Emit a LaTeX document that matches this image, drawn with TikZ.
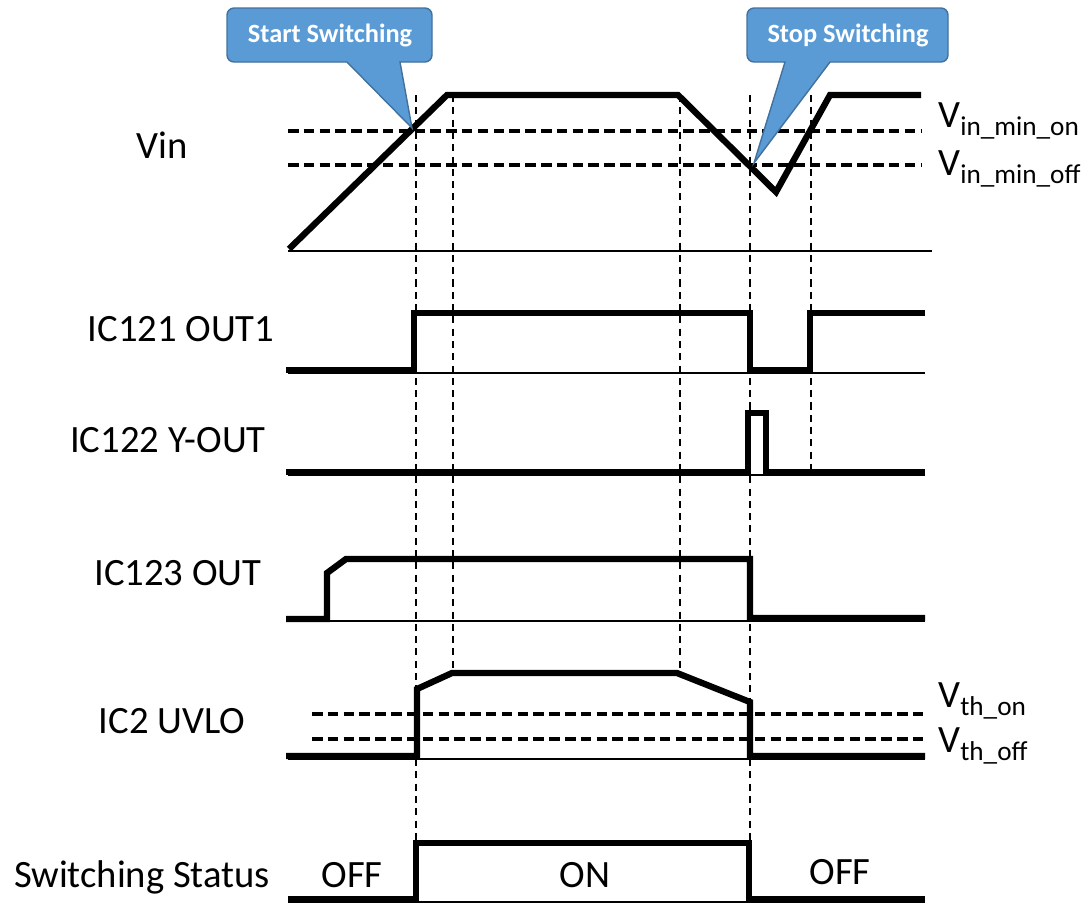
\documentclass[tikz,border=0pt]{standalone}
\usepackage{fontspec}
\setmainfont{Carlito}

\definecolor{callblue}{HTML}{5B9BD5}
\definecolor{calledge}{HTML}{41719C}
\newcommand{\vsub}[1]{V\raisebox{-5pt}{\fontsize{15.5}{15}\selectfont #1}}

\begin{document}
\begin{tikzpicture}[
  x=0.02cm, y=-0.02cm,
  font=\fontsize{22}{26}\selectfont,
  sig/.style={line width=3.6pt, line join=miter},
  axis/.style={line width=0.8pt},
  thr/.style={line width=2pt, dash pattern=on 6pt off 3pt},
  guide/.style={line width=0.8pt, dash pattern=on 4pt off 3pt},
  lbl/.style={anchor=base, inner sep=0pt},
  vlbl/.style={anchor=base west, inner sep=0pt},
  bubble/.style={fill=callblue, draw=calledge, line width=0.8pt},
  btxt/.style={text=white, inner sep=0pt, font=\fontsize{15}{18}\selectfont\bfseries}
]
\useasboundingbox (0,0) rectangle (1088,904);

% signal names
\node[lbl] (vin)    at (162,158) {Vin};
\node[lbl] (out1)   at (181,341) {IC121 OUT1};
\node[lbl] (yout)   at (168,452) {IC122 Y-OUT};
\node[lbl] (ic123)  at (178,585) {IC123 OUT};
\node[lbl] (uvlo)   at (172,733) {IC2 UVLO};
\node[lbl] (status) at (142,887) {Switching Status};

% time markers
\draw[guide] (416,95) -- (416,842);
\draw[guide] (453,95) -- (453,672);
\draw[guide] (680,95) -- (680,672);
\draw[guide] (750,95) -- (750,842);
\draw[guide] (811,95) -- (811,472);

% baselines
\draw[axis] (288,251) -- (932,251);
\draw[axis] (288,373) -- (925,373);
\draw[axis] (288,475) -- (925,475);
\draw[axis] (288,621) -- (925,621);
\draw[axis] (288,759) -- (925,759);
\draw[axis] (288,902) -- (925,902);

% thresholds
\draw[thr] (288,131) -- (922,131);
\draw[thr] (288,165) -- (922,165);
\draw[thr] (312,714) -- (925,714);
\draw[thr] (312,739) -- (925,739);

\node[vlbl] (vminon)  at (938,127) {\vsub{in\_min\_on}};
\node[vlbl] (vminoff) at (938,175) {\vsub{in\_min\_off}};
\node[vlbl] (vthon)   at (938,707) {\vsub{th\_on}};
\node[vlbl] (vthoff)  at (938,752) {\vsub{th\_off}};

% waveforms
\draw[sig] (289,249) -- (447,95) -- (678,95) -- (776,192) -- (830,95) -- (921,95);
\draw[sig] (286,370) -- (414,370) -- (414,313) -- (750,313) -- (750,370)
  -- (810,370) -- (810,313) -- (925,313);
\draw[sig] (286,472) -- (748,472) -- (748,413) -- (766,413) -- (766,472) -- (925,472);
\draw[sig] (286,619) -- (327,619) -- (327,573) -- (346,559) -- (750,559)
  -- (750,618) -- (925,618);
\draw[sig] (286,756) -- (417,756) -- (417,689) -- (452,673) -- (677,673)
  -- (750,702) -- (750,756) -- (925,756);
\draw[sig] (288,899) -- (416,899) -- (416,843) -- (749,843) -- (749,899) -- (925,899);

\node[lbl] (offa) at (352,887) {OFF};
\node[lbl] (on)   at (585,887) {ON};
\node[lbl] (offb) at (840,884) {OFF};

% callouts
\filldraw[bubble] (400,62) -- (412,128) -- (347,62) [rounded corners=4pt]
  -- (227,62) -- (227,8) -- (432,8) -- (432,62) [sharp corners] -- cycle;
\node[btxt] (startsw) at (330,35) {Start Switching};
\filldraw[bubble] (830,62) -- (754,163) -- (785,62) [rounded corners=4pt]
  -- (747,62) -- (747,8) -- (948,8) -- (948,62) [sharp corners] -- cycle;
\node[btxt] (stopsw) at (848,35) {Stop Switching};
\end{tikzpicture}
\end{document}
